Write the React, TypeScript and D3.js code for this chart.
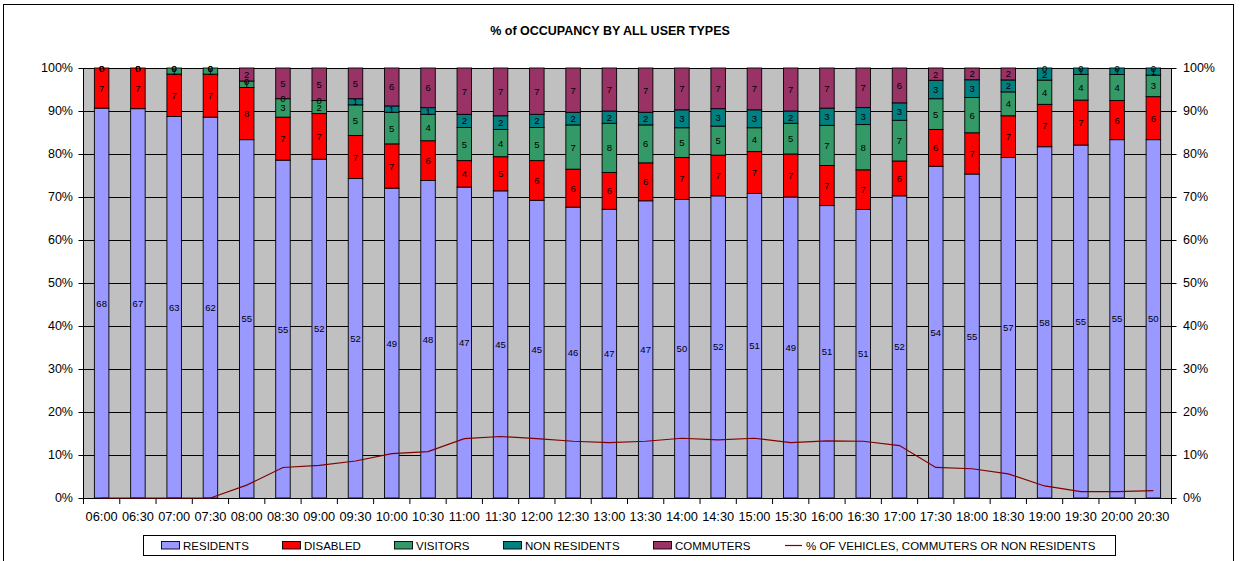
import React from "react";
import * as d3 from "d3";

const categories = ["06:00","06:30","07:00","07:30","08:00","08:30","09:00","09:30","10:00","10:30","11:00","11:30","12:00","12:30","13:00","13:30","14:00","14:30","15:00","15:30","16:00","16:30","17:00","17:30","18:00","18:30","19:00","19:30","20:00","20:30"];
const residents =    [68,67,63,62,55,55,52,52,49,48,47,45,45,46,47,47,50,52,51,49,51,51,52,54,55,57,58,55,55,50];
const disabled =     [7,7,7,7,8,7,7,7,7,6,4,5,6,6,6,6,7,7,7,7,7,7,6,6,7,7,7,7,6,6];
const visitors =     [0,0,1,1,1,3,2,5,5,4,5,4,5,7,8,6,5,5,4,5,7,8,7,5,6,4,4,4,4,3];
const nonResidents = [0,0,0,0,0,0,0,1,1,1,2,2,2,2,2,2,3,3,3,2,3,3,3,3,3,2,2,1,1,1];
const commuters =    [0,0,0,0,2,5,5,5,6,6,7,7,7,7,7,7,7,7,7,7,7,7,6,2,2,2,0,0,0,0];
const pctCommNonRes = [0,0,0,0,3.0,7.1,7.6,8.6,10.3,10.8,13.8,14.3,13.8,13.2,12.9,13.2,13.9,13.5,13.9,12.9,13.3,13.2,12.2,7.1,6.8,5.6,2.8,1.5,1.5,1.7];
const yTicks = [0,0.1,0.2,0.3,0.4,0.5,0.6,0.7,0.8,0.9,1.0];

const seriesKeys = ["RESIDENTS","DISABLED","VISITORS","NON RESIDENTS","COMMUTERS"];
const seriesColors = ["#9999FF","#FF0000","#339966","#008080","#993366"];
const lineLabel = "% OF VEHICLES, COMMUTERS OR NON RESIDENTS";

const FONT = "Arial, 'Liberation Sans', sans-serif";

export default function App() {
  const W = 1240, H = 561;
  const left = 83.5, right = 1171.5, top = 68, bottom = 498;
  const rows = categories.map((c, i) => ({
    cat: c,
    "RESIDENTS": residents[i],
    "DISABLED": disabled[i],
    "VISITORS": visitors[i],
    "NON RESIDENTS": nonResidents[i],
    "COMMUTERS": commuters[i],
  }));
  const stack = d3.stack<any>().keys(seriesKeys).offset(d3.stackOffsetExpand);
  const stacked = stack(rows);
  const x = d3.scaleBand<string>().domain(categories).range([left, right]).paddingInner(0.6).paddingOuter(0.3);
  const y = d3.scaleLinear().domain([0, 1]).range([bottom, top]);
  const yLine = d3.scaleLinear().domain([0, 100]).range([bottom, top]);
  const step = x.step();
  const bw = x.bandwidth();
  const line = d3.line<number>()
    .x((_, i) => (x(categories[i]) as number) + bw / 2)
    .y((d) => yLine(d));

  const legendItems = [
    { label: "RESIDENTS", x: 161 },
    { label: "DISABLED", x: 282 },
    { label: "VISITORS", x: 394 },
    { label: "NON RESIDENTS", x: 503 },
    { label: "COMMUTERS", x: 653 },
  ];

  return (
    <svg width={W} height={H} style={{ position: "absolute", left: 0, top: 0, background: "#fff" }} fontFamily={FONT}>
      <rect x={0} y={0} width={W} height={H} fill="#fff" />
      <rect x={3.5} y={4.5} width={1230} height={570} fill="none" stroke="#000" strokeWidth={1} />
      <text x={610} y={35} textAnchor="middle" fontSize={12.5} fontWeight="bold">% of OCCUPANCY BY ALL USER TYPES</text>

      {/* plot area */}
      <rect x={left} y={top} width={right - left} height={bottom - top} fill="#C0C0C0" />
      {yTicks.filter(t => t > 0).map((t) => (
        <line key={"g" + t} x1={left} x2={right} y1={Math.round(y(t)) + 0.5} y2={Math.round(y(t)) + 0.5} stroke="#000" strokeWidth={1} />
      ))}

      {/* bars */}
      {stacked.map((s, si) => (
        <g key={s.key}>
          {s.map((d, i) => {
            const x0 = x(categories[i]) as number;
            const h = y(d[0]) - y(d[1]);
            if (h <= 0) return null;
            return <rect key={i} x={x0} y={y(d[1])} width={bw} height={h} fill={seriesColors[si]} stroke="#000" strokeWidth={0.9} />;
          })}
        </g>
      ))}

      {/* axes */}
      <line x1={left} x2={left} y1={top} y2={bottom} stroke="#000" />
      <line x1={right} x2={right} y1={top} y2={bottom} stroke="#000" />
      <line x1={left} x2={right} y1={bottom + 0.5} y2={bottom + 0.5} stroke="#000" />
      {yTicks.map((t) => (
        <g key={"t" + t}>
          <line x1={left - 5} x2={left} y1={Math.round(y(t)) + 0.5} y2={Math.round(y(t)) + 0.5} stroke="#000" />
          <line x1={right - 4} x2={right + 5} y1={Math.round(y(t)) + 0.5} y2={Math.round(y(t)) + 0.5} stroke="#000" />
          <text x={73} y={y(t)} textAnchor="end" dominantBaseline="central" fontSize={12.5}>{Math.round(t * 100) + "%"}</text>
          <text x={1183} y={y(t)} textAnchor="start" dominantBaseline="central" fontSize={12.5}>{Math.round(t * 100) + "%"}</text>
        </g>
      ))}
      {categories.map((c, i) => (
        <line key={"xt" + c} x1={left + i * step} x2={left + i * step} y1={bottom} y2={bottom + 6} stroke="#000" />
      ))}
      <line x1={right} x2={right} y1={bottom} y2={bottom + 6} stroke="#000" />
      {categories.map((c) => (
        <text key={"xl" + c} x={(x(c) as number) + bw / 2} y={521} textAnchor="middle" fontSize={12.8}>{c}</text>
      ))}

      {/* line */}
      <path d={line(pctCommNonRes) || ""} fill="none" stroke="#800000" strokeWidth={1.2} />

      {/* data labels */}
      {stacked.map((s, si) => (
        <g key={"l" + s.key}>
          {s.map((d, i) => {
            const cx = (x(categories[i]) as number) + bw / 2;
            const cy = (y(d[0]) + y(d[1])) / 2;
            const v = (rows[i] as any)[s.key];
            return <text key={i} x={cx} y={cy} textAnchor="middle" dominantBaseline="central" fontSize={9.5} fill="#000">{v}</text>;
          })}
        </g>
      ))}

      {/* legend */}
      <rect x={143.5} y={535.5} width={972} height={20} fill="#fff" stroke="#000" strokeWidth={1} />
      {legendItems.map((it, i) => (
        <g key={it.label}>
          <rect x={it.x + 0.5} y={541.5} width={18} height={7.5} fill={seriesColors[i]} stroke="#000" strokeWidth={0.9} />
          <text x={it.x + 22} y={549.5} fontSize={11.5}>{seriesKeys[i]}</text>
        </g>
      ))}
      <line x1={785} x2={802} y1={545.5} y2={545.5} stroke="#800000" strokeWidth={1.2} />
      <text x={806} y={549.5} fontSize={11.5}>{lineLabel}</text>
    </svg>
  );
}
